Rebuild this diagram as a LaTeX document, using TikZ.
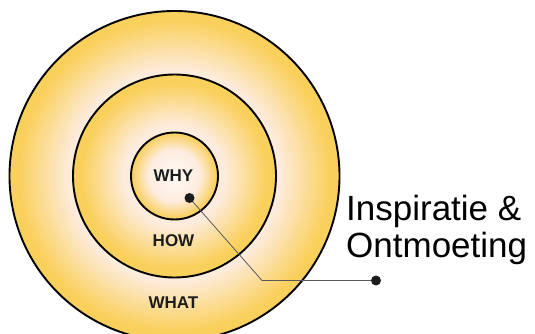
\documentclass[tikz,border=0pt]{standalone}
\usepackage{fontspec}
\setmainfont{Liberation Sans}
\definecolor{ringyellow}{RGB}{250,208,92}
\definecolor{ringcream}{RGB}{253,236,222}
\definecolor{ringwhite}{RGB}{255,250,244}
\definecolor{txtdark}{RGB}{28,28,28}
\definecolor{linkgray}{RGB}{90,90,90}
% radial gradient disk: centre, radius, a (cream below), b (yellow above)
\newcommand{\gradientdisk}[5]{%
  \foreach \k in {0,...,69}{%
    \pgfmathsetmacro\ff{1-\k/70}%
    \pgfmathsetmacro\rr{#2*\ff}%
    \pgfmathtruncatemacro\pp{100*max(0,min(1,(\ff-#3)/(#4-#3)))}%
    \pgfmathtruncatemacro\qq{100*max(0,min(1,\ff/#3))}%
    \ifnum\pp>0
      \fill[ringyellow!\pp!ringcream] #1 circle (\rr);
    \else
      \fill[ringcream!\qq!#5] #1 circle (\rr);
    \fi
  }%
}
\tikzset{
  ringline/.style={draw=black, line width=1.9pt},
  ringlabel/.style={font=\fontsize{17}{19}\selectfont\bfseries, text=txtdark, inner sep=0pt},
  biglabel/.style={font=\fontsize{35}{38}\selectfont, text=black, inner sep=0pt, anchor=base west},
  pin/.style={circle, fill=txtdark, inner sep=0pt, minimum size=10pt},
  link/.style={draw=linkgray, line width=0.8pt}
}
\begin{document}
\begin{tikzpicture}[x=1pt,y=-1pt]
\useasboundingbox (0,0) rectangle (535,334);
\fill[white] (0,0) rectangle (535,334);
\clip (0,0) rectangle (535,334);
\coordinate (ctr) at (174.5,176);
\gradientdisk{(ctr)}{165}{0.64}{0.95}{ringcream}
\draw[ringline] (ctr) circle (165);
\gradientdisk{(ctr)}{101.5}{0.5}{0.92}{ringcream}
\draw[ringline] (ctr) circle (101.5);
\gradientdisk{(ctr)}{43.5}{0.6}{0.98}{ringwhite}
\draw[ringline] (ctr) circle (43.5);
\node[ringlabel] (why) at (173.5,176) {WHY};
\node[ringlabel] (how) at (173.5,241) {HOW};
\node[ringlabel] (what) at (173.5,303) {WHAT};
\node[biglabel] (insp) at (346,220) {Inspiratie \&};
\node[biglabel] (ontm) at (346,257) {Ontmoeting};
\coordinate (dotinpos) at (189.5,198);
\coordinate (dotoutpos) at (376,280.5);
\coordinate (bend) at (262,280.5);
\draw[link] (dotinpos) -- (bend) -- (dotoutpos);
\node[pin] (dotin) at (dotinpos) {};
\node[pin] (dotout) at (dotoutpos) {};
\end{tikzpicture}
\end{document}
